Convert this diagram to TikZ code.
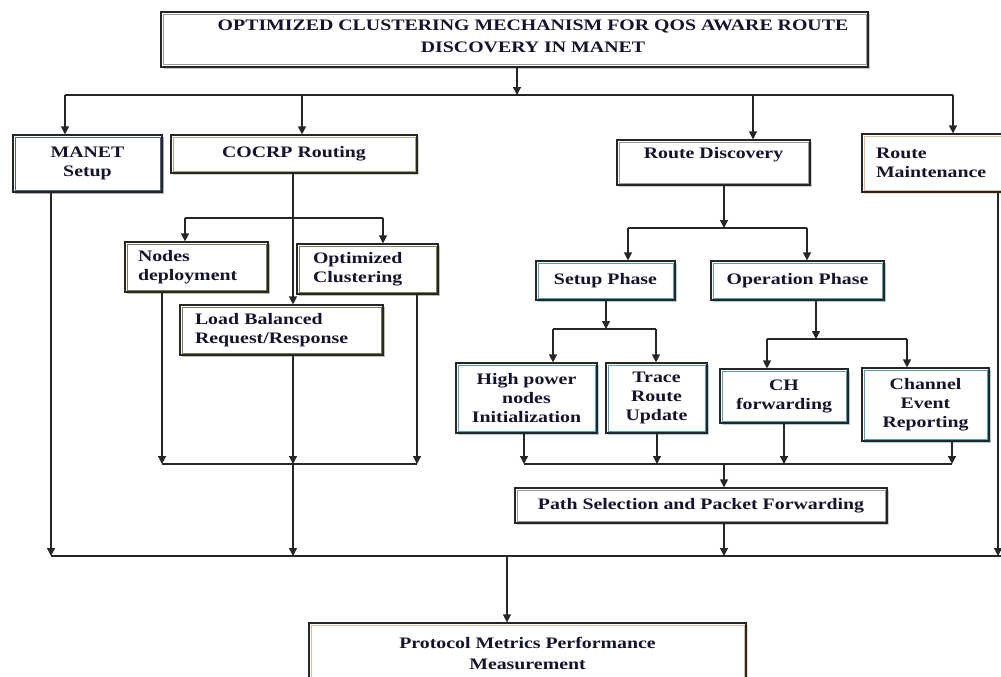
\documentclass[tikz,border=0pt]{standalone}
\usepackage{fontspec}
\setmainfont{Liberation Serif}[FakeStretch=1.24]
\usetikzlibrary{arrows.meta,shadows}
\definecolor{navy}{HTML}{1F3864}
\definecolor{olive}{HTML}{4F6228}
\definecolor{olivel}{HTML}{8A9A6A}
\definecolor{tealc}{HTML}{31849B}
\definecolor{tan}{HTML}{E0A880}
\definecolor{txtc}{HTML}{14142B}
\begin{document}
\begin{tikzpicture}[x=1pt,y=-1pt,
  ln/.style={draw=black!85, line width=1.3pt},
  arr/.style={ln, -{Triangle[length=8pt,width=8pt]}},
  bx/.style={draw=black!85, line width=1.2pt, fill=white, inner sep=0pt,
    text=txtc, align=center,
    font=\fontsize{16}{19}\selectfont\bfseries,
    drop shadow={shadow xshift=1.6pt, shadow yshift=-1.6pt, fill=#1!40, opacity=1},
    path picture={\draw[#1!80, line width=0.6pt]
      ([shift={(2.2pt,-2.2pt)}]path picture bounding box.north west) rectangle
      ([shift={(-2.2pt,2.2pt)}]path picture bounding box.south east);}},
  lft/.style 2 args={align=left, inner xsep=#1, text width=#2},
  ttl/.style={text=txtc, align=center, inner sep=0pt,
    font=\fontsize{16}{22}\selectfont\bfseries}
]
\useasboundingbox (0,0) rectangle (1001,677);

% boxes
\node[bx=gray, minimum width=707pt, minimum height=55pt] (top) at (514.5,39.5) {};
\node[ttl] (topt) at (533,36) {OPTIMIZED CLUSTERING MECHANISM FOR QOS AWARE ROUTE\\DISCOVERY IN MANET};

\node[bx=navy, minimum width=149pt, minimum height=57pt] (manet) at (87.5,163.5) {MANET\\Setup};
\node[bx=olivel, minimum width=246pt, minimum height=38pt] (cocrp) at (294,154) {COCRP Routing};
\node[bx=gray, minimum width=193pt, minimum height=45pt] (rd) at (713.5,162.5) {Route Discovery\\\mbox{}};
\node[bx=tan, lft={14pt}{120pt}, minimum height=58pt] (rm) at (936,163) {Route\\Maintenance};

\node[bx=olive, lft={13pt}{117pt}, minimum height=50pt] (nd) at (196.5,267) {Nodes\\deployment};
\node[bx=olive, lft={16pt}{109pt}, minimum height=50pt] (oc) at (367.5,269) {Optimized\\Clustering};
\node[bx=olive, lft={15pt}{173pt}, minimum height=50pt] (lb) at (281.5,330) {Load Balanced\\Request/Response};

\node[bx=tealc, minimum width=139pt, minimum height=39pt] (sp) at (605.5,280.5) {Setup Phase};
\node[bx=tealc, minimum width=173pt, minimum height=39pt] (op) at (797.5,280.5) {Operation Phase};

\node[bx=tealc, minimum width=141pt, minimum height=70pt] (hp) at (526.5,398) {High power\\nodes\\Initialization};
\node[bx=tealc, minimum width=101pt, minimum height=70pt] (tr) at (656.5,398) {Trace\\Route\\Update};
\node[bx=tealc, minimum width=128pt, minimum height=54pt] (ch) at (784,396) {CH\\forwarding};
\node[bx=tealc, minimum width=127pt, minimum height=73pt] (ce) at (925.5,404.5) {Channel\\Event\\Reporting};

\node[bx=gray, minimum width=372pt, minimum height=35pt] (ps) at (701,505.5) {Path Selection and Packet Forwarding};
\node[bx=tan, minimum width=437pt, minimum height=60pt, font=\fontsize{16}{21}\selectfont\bfseries] (pm) at (527.5,653) {Protocol Metrics Performance\\Measurement};

% top bus
\coordinate (j0) at (517,95);
\coordinate (b1) at (65,95);
\coordinate (b2) at (302,95);
\coordinate (b3) at (753,95);
\coordinate (b4) at (953,95);
\draw[arr] (top.south -| j0) -- (j0);
\draw[ln] (b1) -- (b4);
\draw[arr] (b1) -- (b1 |- manet.north);
\draw[arr] (b2) -- (b2 |- cocrp.north);
\draw[arr] (b3) -- (b3 |- rd.north);
\draw[arr] (b4) -- (b4 |- rm.north);

% COCRP branch
\coordinate (c0) at (293,0);
\coordinate (s1) at (185,218);
\coordinate (s2) at (383,218);
\draw[arr] (cocrp.south -| c0) -- (lb.north -| c0);
\draw[ln] (s1) -- (s2);
\draw[arr] (s1) -- (s1 |- nd.north);
\draw[arr] (s2) -- (s2 |- oc.north);
\coordinate (k1) at (162,464);
\coordinate (k2) at (293,464);
\coordinate (k3) at (417,464);
\draw[arr] (nd.south -| k1) -- (k1);
\draw[arr] (lb.south -| k2) -- (k2);
\draw[arr] (oc.south -| k3) -- (k3);
\draw[ln] (k1) -- (k3);

% Route discovery branch
\coordinate (r0) at (724,228);
\coordinate (r1) at (628,228);
\coordinate (r2) at (807,228);
\draw[arr] (rd.south -| r0) -- (r0);
\draw[ln] (r1) -- (r2);
\draw[arr] (r1) -- (r1 |- sp.north);
\draw[arr] (r2) -- (r2 |- op.north);

\coordinate (q0) at (606,329);
\coordinate (q1) at (553,329);
\coordinate (q2) at (656,329);
\draw[arr] (sp.south -| q0) -- (q0);
\draw[ln] (q1) -- (q2);
\draw[arr] (q1) -- (q1 |- hp.north);
\draw[arr] (q2) -- (q2 |- tr.north);

\coordinate (o0) at (816,339);
\coordinate (o1) at (767,339);
\coordinate (o2) at (907,339);
\draw[arr] (op.south -| o0) -- (o0);
\draw[ln] (o1) -- (o2);
\draw[arr] (o1) -- (o1 |- ch.north);
\draw[arr] (o2) -- (o2 |- ce.north);

\coordinate (p0) at (724,464);
\coordinate (p1) at (524,464);
\coordinate (p2) at (657,464);
\coordinate (p3) at (784,464);
\coordinate (p4) at (952,464);
\draw[arr] (hp.south -| p1) -- (p1);
\draw[arr] (tr.south -| p2) -- (p2);
\draw[arr] (ch.south -| p3) -- (p3);
\draw[arr] (ce.south -| p4) -- (p4);
\draw[ln] (p1) -- (p4);
\draw[arr] (p0) -- (p0 |- ps.north);

% bottom bus
\coordinate (m1) at (51,556);
\coordinate (m2) at (293,556);
\coordinate (m3) at (724,556);
\coordinate (m4) at (998,556);
\coordinate (me) at (1001,556);
\coordinate (mp) at (507,556);
\draw[ln] (m1) -- (me);
\draw[arr] (manet.south -| m1) -- (m1);
\draw[arr] (k2) -- (m2);
\draw[arr] (ps.south -| m3) -- (m3);
\draw[arr] (rm.south -| m4) -- (m4);
\draw[arr] (mp) -- (mp |- pm.north);
\end{tikzpicture}
\end{document}
